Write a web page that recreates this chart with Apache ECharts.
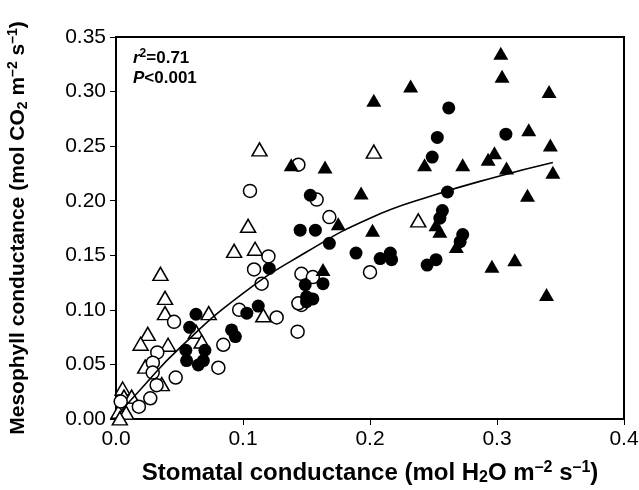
<!DOCTYPE html>
<html><head><meta charset="utf-8">
<script src="https://cdn.jsdelivr.net/npm/echarts@6/dist/echarts.min.js"></script>
<style>html,body{margin:0;padding:0;background:#fff}#c{width:639px;height:490px}</style>
</head><body><div id="c"></div>
<script>
const xTicks = [0.0, 0.1, 0.2, 0.3, 0.4];
const yTicks = [0.00, 0.05, 0.10, 0.15, 0.20, 0.25, 0.30, 0.35];

const filledCircles = [
  [0.262,0.285],[0.253,0.258],[0.249,0.240],[0.307,0.261],[0.261,0.208],[0.257,0.191],
  [0.255,0.184],[0.273,0.169],[0.271,0.1625],[0.153,0.205],[0.145,0.173],[0.157,0.173],
  [0.168,0.161],[0.189,0.152],[0.208,0.147],[0.216,0.152],[0.217,0.146],[0.245,0.141],
  [0.252,0.146],[0.149,0.123],[0.163,0.124],[0.150,0.112],[0.155,0.110],[0.150,0.1075],
  [0.1207,0.138],[0.112,0.1035],[0.103,0.097],[0.091,0.0816],[0.094,0.0755],[0.063,0.096],
  [0.058,0.084],[0.055,0.063],[0.070,0.063],[0.0556,0.0535],[0.0648,0.0495],[0.0688,0.0535]
];
const openCircles = [
  [0.1436,0.233],[0.158,0.201],[0.168,0.185],[0.1055,0.209],[0.120,0.149],[0.1087,0.137],
  [0.1147,0.124],[0.200,0.1345],[0.146,0.133],[0.155,0.130],[0.146,0.1045],[0.143,0.080],
  [0.0457,0.089],[0.0325,0.061],[0.029,0.0516],[0.0289,0.0425],[0.0806,0.047],[0.047,0.038],
  [0.032,0.031],[0.027,0.019],[0.018,0.0113],[0.0037,0.016],[0.097,0.100],[0.1265,0.093],
  [0.0845,0.068],[0.1436,0.106]
];
const filledTriangles = [
  [0.203,0.292],[0.232,0.305],[0.303,0.335],[0.304,0.314],[0.341,0.300],[0.325,0.265],
  [0.342,0.251],[0.298,0.244],[0.293,0.238],[0.3075,0.230],[0.344,0.226],[0.324,0.205],
  [0.314,0.146],[0.296,0.140],[0.339,0.114],[0.243,0.233],[0.273,0.233],[0.1646,0.231],
  [0.138,0.233],[0.193,0.207],[0.175,0.179],[0.202,0.173],[0.252,0.178],[0.255,0.172],
  [0.268,0.158],[0.163,0.137]
];
const openTriangles = [
  [0.113,0.247],[0.203,0.245],[0.238,0.182],[0.104,0.177],[0.093,0.154],[0.1095,0.156],
  [0.035,0.133],[0.0386,0.111],[0.0386,0.097],[0.073,0.097],[0.116,0.095],[0.063,0.080],
  [0.025,0.078],[0.0194,0.069],[0.041,0.068],[0.0675,0.071],[0.023,0.048],[0.036,0.032],
  [0.0052,0.028],[0.0063,0.0205],[0.0123,0.0205],[0.002,0.0067],[0.008,0.0058],[0.003,0.0006]
];
const fitCurve = [
  [0.003,0.006],[0.02,0.028],[0.05,0.065],[0.1,0.115],[0.15,0.153],[0.2,0.184],
  [0.25,0.205],[0.3,0.222],[0.344,0.235]
];

const FONT = '"Liberation Sans", Arial, sans-serif';
const chart = echarts.init(document.getElementById('c'));
const circ = 13, tri = [15, 13];
function richName(size) {
  return {
    b: { fontSize: size, fontWeight: 'bold', fontFamily: FONT, color: '#000' },
    sub: { fontSize: Math.round(size*0.65), fontWeight: 'bold', fontFamily: FONT, color: '#000', verticalAlign: 'bottom', padding: [10,0,0,0] },
    sup: { fontSize: Math.round(size*0.65), fontWeight: 'bold', fontFamily: FONT, color: '#000', verticalAlign: 'top', padding: [0,0,10,0] }
  };
}
chart.setOption({
  animation: false,
  backgroundColor: '#fff',
  grid: { left: 116, right: 15, top: 37, bottom: 71, containLabel: false, outerBoundsMode: 'none',
          show: true, borderColor: '#000', borderWidth: 2, backgroundColor: 'transparent' },
  xAxis: {
    type: 'value', min: xTicks[0], max: xTicks[xTicks.length-1], interval: 0.1,
    axisLine: { show: true, lineStyle: { color: '#000', width: 2 } },
    axisTick: { show: true, inside: false, length: 6, lineStyle: { color: '#000', width: 1 } },
    splitLine: { show: false },
    axisLabel: { color: '#000', fontSize: 21, fontFamily: FONT, margin: 10, formatter: v => v.toFixed(1) },
    name: '{b|Stomatal conductance (mol H}{sub|2}{b|O m}{sup|–2}{b| s}{sup|–1}{b|)}',
    nameLocation: 'middle', nameGap: 41,
    nameTextStyle: { rich: richName(24) }
  },
  yAxis: {
    type: 'value', min: yTicks[0], max: yTicks[yTicks.length-1], interval: 0.05,
    axisLine: { show: true, lineStyle: { color: '#000', width: 2 } },
    axisTick: { show: true, inside: false, length: 6, lineStyle: { color: '#000', width: 1 } },
    splitLine: { show: false },
    axisLabel: { color: '#000', fontSize: 21, fontFamily: FONT, margin: 10, formatter: v => v.toFixed(2) },
    name: '{b|Mesophyll conductance (mol CO}{sub|2}{b| m}{sup|–2}{b| s}{sup|–1}{b|)}',
    nameLocation: 'middle', nameGap: 86, nameRotate: 90,
    nameTextStyle: { rich: richName(21) }
  },
  graphic: [{
    type: 'text', left: 133, top: 48,
    style: {
      text: '{i|r}{s|2}{b|=0.71}\n{i|P}{b|<0.001}',
      rich: {
        i: { fontSize: 17, fontWeight: 'bold', fontStyle: 'italic', fontFamily: FONT, fill: '#000', lineHeight: 20 },
        b: { fontSize: 17, fontWeight: 'bold', fontFamily: FONT, fill: '#000', lineHeight: 20 },
        s: { fontSize: 12, fontWeight: 'bold', fontFamily: FONT, fill: '#000', verticalAlign: 'top', lineHeight: 20, padding: [0,0,6,0] }
      }
    }
  }],
  series: [
    { type: 'line', data: fitCurve, smooth: true, symbol: 'none', lineStyle: { color: '#000', width: 1.6 }, z: 5 },
    { type: 'scatter', data: openTriangles, symbol: 'triangle', symbolSize: tri, itemStyle: { color: '#fff', borderColor: '#000', borderWidth: 1.5, opacity: 1 }, z: 3 },
    { type: 'scatter', data: openCircles, symbol: 'circle', symbolSize: circ, itemStyle: { color: '#fff', borderColor: '#000', borderWidth: 1.5, opacity: 1 }, z: 3 },
    { type: 'scatter', data: filledTriangles, symbol: 'triangle', symbolSize: tri, itemStyle: { color: '#000', borderColor: '#000', borderWidth: 0, opacity: 1 }, z: 4 },
    { type: 'scatter', data: filledCircles, symbol: 'circle', symbolSize: circ, itemStyle: { color: '#000', borderColor: '#000', borderWidth: 0, opacity: 1 }, z: 4 }
  ]
});
</script></body></html>
